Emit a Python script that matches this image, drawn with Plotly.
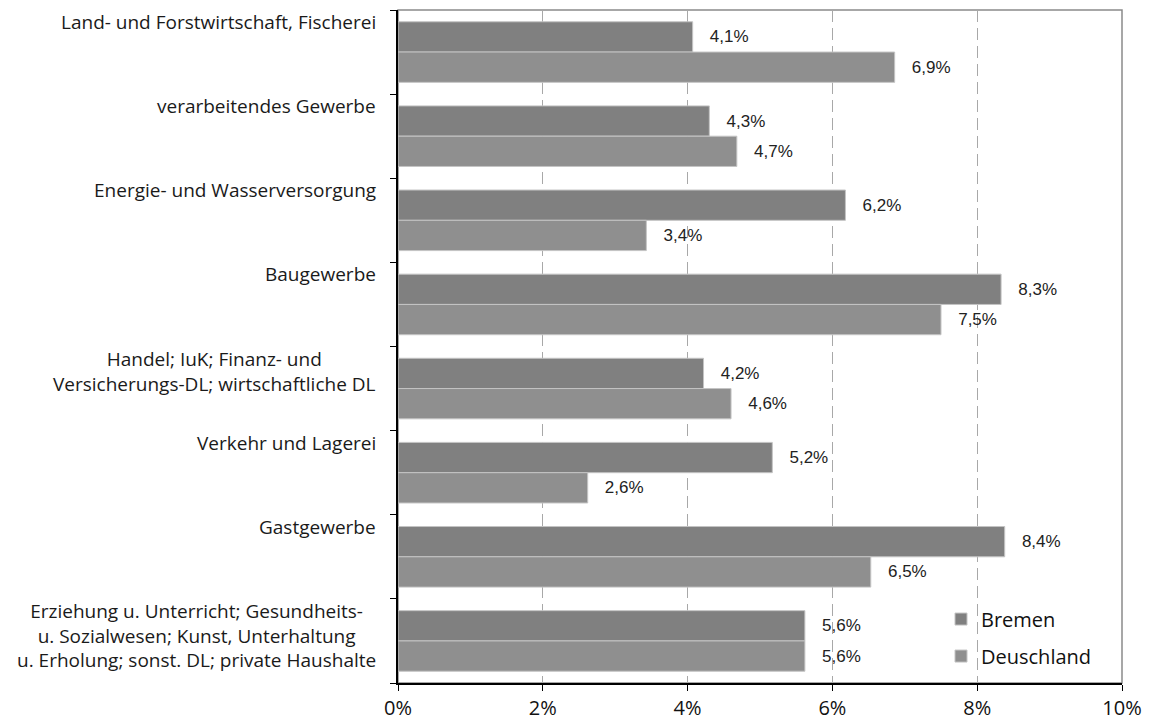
import plotly.graph_objects as go

categories = [
    "Land- und Forstwirtschaft, Fischerei",
    "verarbeitendes Gewerbe",
    "Energie- und Wasserversorgung",
    "Baugewerbe",
    "Handel; IuK; Finanz- und<br>Versicherungs-DL; wirtschaftliche DL",
    "Verkehr und Lagerei",
    "Gastgewerbe",
    "Erziehung u. Unterricht; Gesundheits-<br>u. Sozialwesen; Kunst, Unterhaltung<br>u. Erholung; sonst. DL; private Haushalte",
]
bremen = [4.07, 4.30, 6.18, 8.33, 4.22, 5.17, 8.38, 5.62]
deutschland = [6.86, 4.68, 3.43, 7.50, 4.60, 2.62, 6.53, 5.62]
bremen_labels = ["4,1%", "4,3%", "6,2%", "8,3%", "4,2%", "5,2%", "8,4%", "5,6%"]
deutschland_labels = ["6,9%", "4,7%", "3,4%", "7,5%", "4,6%", "2,6%", "6,5%", "5,6%"]
x_tickvals = [0, 2, 4, 6, 8, 10]
x_ticktext = ["0%", "2%", "4%", "6%", "8%", "10%"]
series_names = ["Bremen", "Deuschland"]

FONT = "Liberation Sans, Arial, sans-serif"
FONT2 = "Open Sans, Liberation Sans, sans-serif"
PAD = "\u00a0\u00a0\u00a0"
cat_ids = list(range(len(categories)))

fig = go.Figure()
fig.add_trace(go.Bar(
    y=cat_ids, x=bremen, orientation="h", name=series_names[0],
    marker=dict(color="#808080", line=dict(color="#c4c4c4", width=1)),
    text=[PAD + t for t in bremen_labels], textposition="outside",
    textfont=dict(family=FONT, size=17, color="#222222"),
    constraintext="none", cliponaxis=False, legendgroup="a",
))
fig.add_trace(go.Bar(
    y=cat_ids, x=deutschland, orientation="h", name=series_names[1],
    marker=dict(color="#8f8f8f", line=dict(color="#c4c4c4", width=1)),
    text=[PAD + t for t in deutschland_labels], textposition="outside",
    textfont=dict(family=FONT, size=17, color="#222222"),
    constraintext="none", cliponaxis=False, legendgroup="b",
))

annotations = []
for i, c in enumerate(categories):
    annotations.append(dict(
        x=0, xref="paper", y=i - 0.5, yref="y", text=c, showarrow=False,
        xanchor="right", yanchor="top", align="center", xshift=-20, yshift=3,
        font=dict(family=FONT2, size=19, color="#1a1a1a"),
    ))

fig.update_layout(
    width=1145, height=714,
    margin=dict(l=390, r=31, t=2, b=39, autoexpand=False),
    paper_bgcolor="white", plot_bgcolor="white",
    barmode="group", bargap=0.28, bargroupgap=0,
    showlegend=True,
    legend=dict(
        x=0.75, y=0.124, xanchor="left", yanchor="top",
        font=dict(family=FONT2, size=20, color="#111111"),
        traceorder="grouped", tracegroupgap=8, bgcolor="rgba(0,0,0,0)",
    ),
    annotations=annotations,
    shapes=[dict(type="rect", xref="paper", yref="paper", x0=0, x1=1, y0=0, y1=1,
                 line=dict(color="#8a8a8a", width=1.5), layer="below")],
)
fig.update_xaxes(
    range=[0, 10], tickvals=x_tickvals, ticktext=x_ticktext,
    showgrid=True, gridcolor="#a8a8a8", gridwidth=1, griddash="12px,6px",
    showline=True, linecolor="#000000", linewidth=1.5,
    ticks="outside", ticklen=6, tickcolor="#000000",
    tickfont=dict(family=FONT2, size=20, color="#111111"),
    ticklabelstandoff=0, automargin=False,
    zeroline=False,
)
fig.update_yaxes(
    type="linear", range=[len(categories) - 0.5, -0.5],
    tickvals=[i + 0.5 for i in cat_ids[:-1]] + [-0.5, len(categories) - 0.5],
    showticklabels=False, showgrid=False, zeroline=False, automargin=False,
    showline=True, linecolor="#000000", linewidth=1.5,
    ticks="outside", ticklen=6, tickcolor="#000000",
)

fig.write_html("out.html")
